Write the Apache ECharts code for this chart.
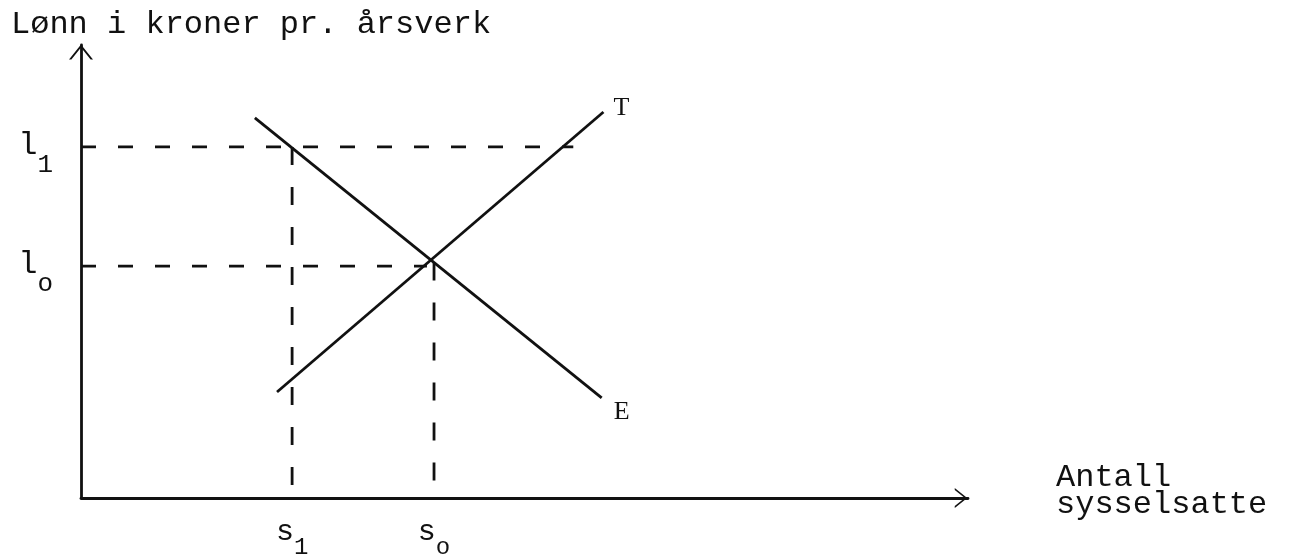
<!DOCTYPE html>
<html>
<head>
<meta charset="utf-8">
<script src="https://cdn.jsdelivr.net/npm/echarts@6/dist/echarts.min.js"></script>
<style>
  html, body { margin: 0; padding: 0; background: #fff; }
  #chart { width: 1290px; height: 554px; }
</style>
</head>
<body>
<div id="chart"></div>
<script>
// verdier lest av figuren (akser 0-100)
var s1 = 23.8, s0 = 39.8;           // sysselsatte
var l1 = 77.5, l0 = 51.2;           // lonn
var linjeE = [[19.6, 83.9], [58.7, 22.1]];   // etterspørsel
var linjeT = [[22.1, 23.4], [58.9, 85.2]];   // tilbud
var l1Slutt = 55.5, l0Slutt = 39, s0Topp = 52;

var blekk = '#111';
var mono = 'Liberation Mono';
// aapen pilspiss, peker opp
var pil = 'path://M12,0 L24,15 L21.6,15 L12,3 L2.4,15 L0,15 Z';

var strek = function (data, dash) {
  return {
    type: 'line', data: data, showSymbol: false, silent: true,
    lineStyle: { color: blekk, width: 2.8, type: dash || 'solid' }
  };
};

var serieE = strek(linjeE);
serieE.endLabel = { show: true, formatter: 'E', offset: [4, 14],
  fontFamily: 'Liberation Serif', fontSize: 26, color: blekk };
var serieT = strek(linjeT);
serieT.endLabel = { show: true, formatter: 'T', offset: [2, -4],
  fontFamily: 'Liberation Serif', fontSize: 26, color: blekk };

// bokstav med senket indeks: to linjer med lik bredde
var indeks = function (bokstav, tall) {
  return '{m|' + bokstav + '}{s| }\n{m| }{s|' + tall + '}';
};
var subRich = function (big, small, lh) {
  return {
    m: { fontFamily: mono, fontSize: big, color: blekk, lineHeight: lh },
    s: { fontFamily: mono, fontSize: small, color: blekk, lineHeight: lh }
  };
};

var chart = echarts.init(document.getElementById('chart'));
chart.setOption({
  animation: false,
  backgroundColor: '#fff',
  title: {
    text: 'Lønn i kroner pr. årsverk',
    left: 6, top: 4,
    textStyle: { fontFamily: mono, fontSize: 32, fontWeight: 'normal', color: blekk }
  },
  grid: { left: 81, right: 322, top: 45, bottom: 56, outerBoundsMode: 'none' },
  xAxis: {
    type: 'value', min: 0, max: 100,
    // tom linje nederst loefter teksten litt over aksen
    name: 'Antall\nsysselsatte\n{z| }', nameLocation: 'end', nameGap: 88,
    nameTextStyle: { fontFamily: mono, fontSize: 32, color: blekk, align: 'left',
      verticalAlign: 'middle', lineHeight: 27,
      rich: { z: { fontSize: 10, lineHeight: 14 } } },
    axisLine: { lineStyle: { color: blekk, width: 2.8 }, symbol: ['none', pil],
      symbolSize: [20, 15], symbolOffset: [0, -7] },
    axisTick: { show: false },
    splitLine: { show: false },
    axisLabel: {
      customValues: [s1, s0], margin: 26,
      formatter: function (v) { return v === s1 ? indeks('s', '1') : indeks('s', 'o'); },
      rich: subRich(30, 24, 16)
    }
  },
  yAxis: {
    type: 'value', min: 0, max: 100,
    axisLine: { lineStyle: { color: blekk, width: 2.8 }, symbol: ['none', pil],
      symbolSize: [24, 15], symbolOffset: [0, -7] },
    axisTick: { show: false },
    splitLine: { show: false },
    axisLabel: {
      customValues: [l0, l1], margin: 28, padding: [17, 0, 0, 0],
      formatter: function (v) { return v === l1 ? indeks('l', '1') : indeks('l', 'o'); },
      rich: subRich(32, 26, 20)
    }
  },
  series: [
    serieE,
    serieT,
    strek([[0, l1], [l1Slutt, l1]], [15, 22]),
    strek([[0, l0], [l0Slutt, l0]], [15, 22]),
    strek([[s1, l1], [s1, 0]], [18, 22]),
    strek([[s0, s0Topp], [s0, 0]], [18, 22])
  ]
});
</script>
</body>
</html>
